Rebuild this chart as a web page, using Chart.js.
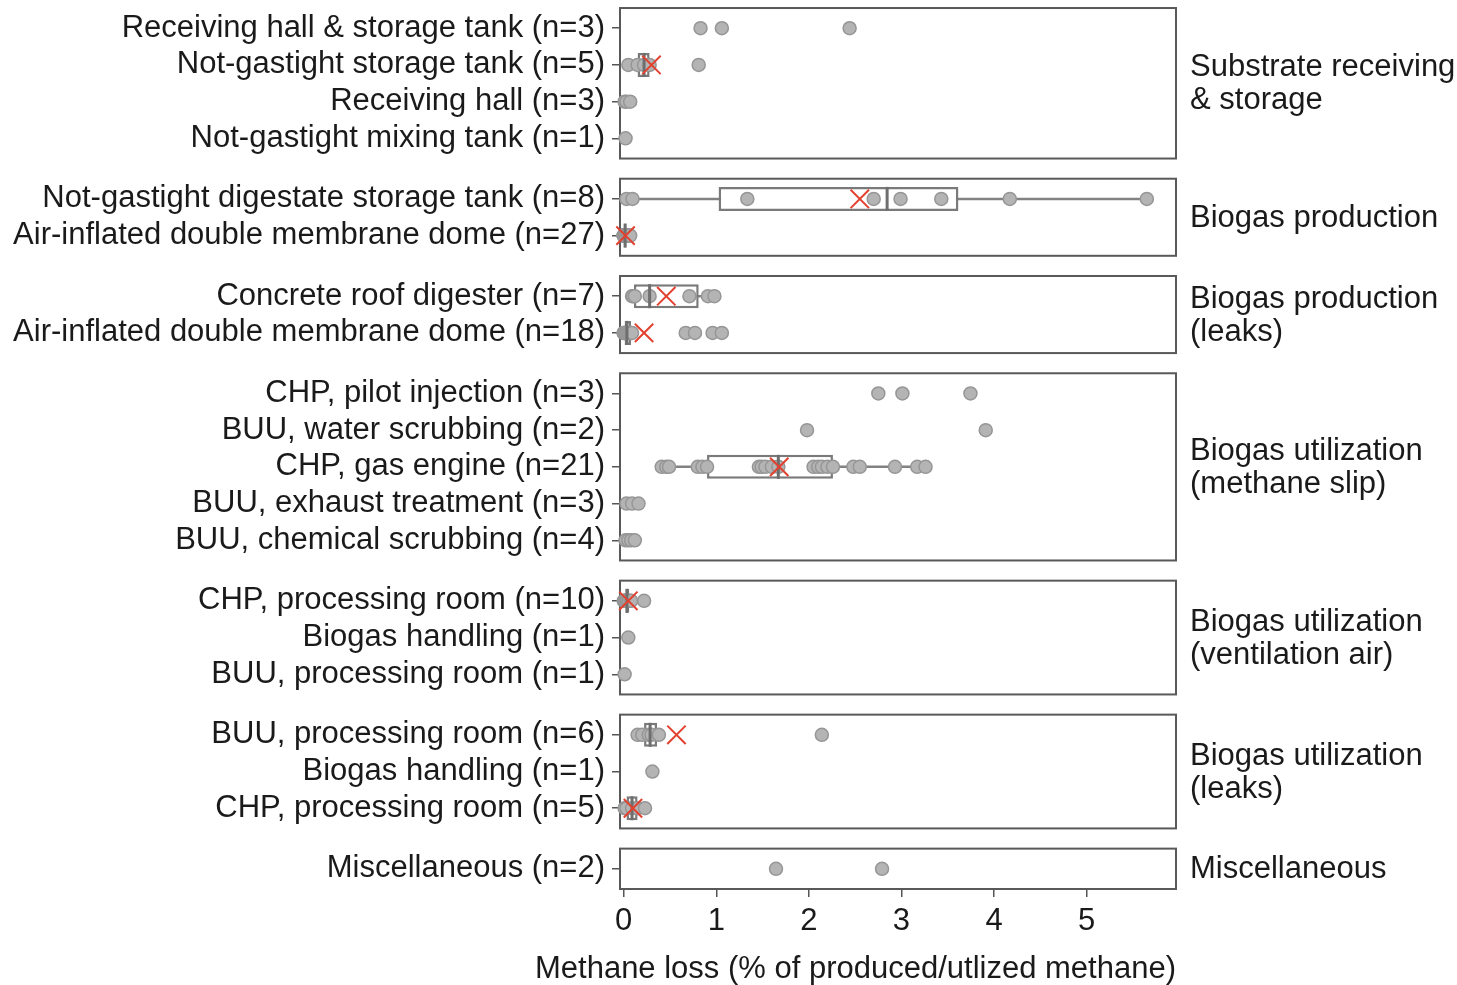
<!DOCTYPE html>
<html>
<head>
    <meta charset="utf-8"/>
    <title>Methane loss</title>
    <script src="https://cdn.jsdelivr.net/npm/chart.js"></script>
    <style>
        body { margin: 0; background: #fff; }
        #chart-container { width: 1457px; height: 985px; }
    </style>
</head>
<body>
    <div id="chart-container">
        <canvas id="lossChart"></canvas>
    </div>

    <script>
        // Grupos (etiquetas de la derecha) y numero de filas de cada uno
        const groupSizes = [4, 2, 2, 5, 3, 3, 1];
        const groupLabels = [
            ['Substrate receiving', '& storage'],
            ['Biogas production'],
            ['Biogas production', '(leaks)'],
            ['Biogas utilization', '(methane slip)'],
            ['Biogas utilization', '(ventilation air)'],
            ['Biogas utilization', '(leaks)'],
            ['Miscellaneous']
        ];

        const rowLabels = [
            'Receiving hall & storage tank (n=3)',
            'Not-gastight storage tank (n=5)',
            'Receiving hall (n=3)',
            'Not-gastight mixing tank (n=1)',
            'Not-gastight digestate storage tank (n=8)',
            'Air-inflated double membrane dome (n=27)',
            'Concrete roof digester (n=7)',
            'Air-inflated double membrane dome (n=18)',
            'CHP, pilot injection (n=3)',
            'BUU, water scrubbing (n=2)',
            'CHP, gas engine (n=21)',
            'BUU, exhaust treatment (n=3)',
            'BUU, chemical scrubbing (n=4)',
            'CHP, processing room (n=10)',
            'Biogas handling (n=1)',
            'BUU, processing room (n=1)',
            'BUU, processing room (n=6)',
            'Biogas handling (n=1)',
            'CHP, processing room (n=5)',
            'Miscellaneous (n=2)'
        ];

        // Valores individuales (% de metano)
        const rowValues = [
            [0.83, 1.06, 2.44],
            [0.05, 0.15, 0.22, 0.28, 0.81],
            [0.01, 0.03, 0.07],
            [0.02],
            [0.03, 0.095, 1.335, 2.70, 2.99, 3.43, 4.17, 5.65],
            [0, 0, 0, 0, 0.005, 0.005, 0.01, 0.01, 0.01, 0.01, 0.01, 0.015, 0.015, 0.02,
             0.02, 0.02, 0.02, 0.025, 0.03, 0.03, 0.03, 0.035, 0.04, 0.04, 0.05, 0.06, 0.07],
            [0.09, 0.10, 0.12, 0.28, 0.71, 0.91, 0.98],
            [0, 0, 0.01, 0.01, 0.02, 0.02, 0.03, 0.03, 0.04, 0.05, 0.06, 0.07, 0.08, 0.09,
             0.67, 0.77, 0.96, 1.06],
            [2.75, 3.01, 3.745],
            [1.98, 3.91],
            [0.41, 0.46, 0.49, 0.80, 0.85, 0.90, 1.46, 1.49, 1.53, 1.60, 1.67, 2.05, 2.10,
             2.14, 2.20, 2.26, 2.48, 2.55, 2.93, 3.17, 3.26],
            [0.03, 0.09, 0.16],
            [0.02, 0.05, 0.08, 0.12],
            [0, 0.01, 0.02, 0.03, 0.03, 0.04, 0.05, 0.06, 0.08, 0.22],
            [0.05],
            [0.01],
            [0.15, 0.20, 0.27, 0.30, 0.38, 2.14],
            [0.31],
            [0.01, 0.03, 0.09, 0.15, 0.23],
            [1.645, 2.79]
        ];

        // Estadisticos de caja (null = sin caja)
        const boxQ1     = [null, 0.15, null, null, 1.025, 0.005, 0.11, 0.01, null, null, 0.90, null, null, 0.02, null, null, 0.22, null, 0.03, null];
        const boxMedian = [null, 0.22, null, null, 2.845, 0.015, 0.28, 0.035, null, null, 1.67, null, null, 0.035, null, null, 0.285, null, 0.09, null];
        const boxQ3     = [null, 0.28, null, null, 3.615, 0.03, 0.81, 0.08, null, null, 2.26, null, null, 0.06, null, null, 0.36, null, 0.15, null];
        const whiskLow  = [null, 0.05, null, null, 0.03, 0, 0.09, 0, null, null, 0.41, null, null, 0, null, null, 0.15, null, 0.01, null];
        const whiskHigh = [null, 0.28, null, null, 5.65, 0.07, 0.98, 0.09, null, null, 3.26, null, null, 0.08, null, null, 0.38, null, 0.23, null];
        const meanValues = [null, 0.30, null, null, 2.55, 0.02, 0.46, 0.22, null, null, 1.68, null, null, 0.05, null, null, 0.57, null, 0.10, null];

        const xTicks = [0, 1, 2, 3, 4, 5];
        const xTitle = 'Methane loss (% of produced/utlized methane)';

        // Posicion vertical de cada fila (1 unidad = 1 fila)
        const PAD = 0.55;
        const rowPos = [];
        const panels = [];
        let cur = 0;
        groupSizes.forEach(n => {
            for (let i = 0; i < n; i++) rowPos.push(cur + i);
            const last = cur + n - 1;
            panels.push([cur - PAD, last + PAD]);
            cur = last + 3 * PAD;
        });
        // Chart.js deja ~15 px arriba por la etiqueta superior; el primer marco
        // se dibuja un poco por encima del area para quedar a 8 px del borde
        const yMin = -PAD + 0.19;
        const yMax = rowPos[rowPos.length - 1] + PAD;

        const FONT = '"Liberation Sans", Arial, sans-serif';
        const TEXT = '#1a1a1a';

        // Conjuntos de datos
        const pointData = [], whiskerData = [], boxData = [], medianData = [], meanData = [];
        rowValues.forEach((vals, i) => {
            vals.forEach(v => pointData.push({ x: v, y: rowPos[i] }));
            if (boxQ1[i] !== null) {
                whiskerData.push({ y: rowPos[i], x: [whiskLow[i], whiskHigh[i]] });
                boxData.push({ y: rowPos[i], x: [boxQ1[i], boxQ3[i]] });
                medianData.push({ x: boxMedian[i], y: rowPos[i] });
                meanData.push({ x: meanValues[i], y: rowPos[i] });
            }
        });

        // Marcos de los paneles, etiquetas de grupo y titulo del eje x
        const panelPlugin = {
            id: 'panels',
            beforeDatasetsDraw(chart) {
                const { ctx, chartArea, scales } = chart;
                ctx.save();
                ctx.strokeStyle = '#595959';
                ctx.lineWidth = 2;
                ctx.fillStyle = TEXT;
                ctx.font = '31px ' + FONT;
                ctx.textAlign = 'left';
                ctx.textBaseline = 'middle';
                panels.forEach((p, g) => {
                    const top = scales.y.getPixelForValue(p[0]);
                    const bottom = scales.y.getPixelForValue(p[1]);
                    ctx.strokeRect(chartArea.left, top, chartArea.right - chartArea.left, bottom - top);
                    const lines = groupLabels[g];
                    const mid = (top + bottom) / 2 + 1;
                    const lh = 33;
                    lines.forEach((t, k) => {
                        ctx.fillText(t, chartArea.right + 14, mid + (k - (lines.length - 1) / 2) * lh);
                    });
                });
                ctx.restore();
            },
            afterDraw(chart) {
                const { ctx, chartArea } = chart;
                ctx.save();
                ctx.fillStyle = TEXT;
                ctx.font = '31px ' + FONT;
                ctx.textAlign = 'right';
                ctx.textBaseline = 'middle';
                ctx.fillText(xTitle, chartArea.right, chartArea.bottom + 80);
                ctx.restore();
            }
        };

        const ctx = document.getElementById('lossChart').getContext('2d');
        new Chart(ctx, {
            type: 'scatter',
            data: {
                datasets: [
                    {
                        type: 'bar',
                        indexAxis: 'y',
                        data: whiskerData,
                        grouped: false,
                        barThickness: 2.5,
                        backgroundColor: '#828282',
                        borderWidth: 0,
                        inflateAmount: 0,
                        order: 5
                    },
                    {
                        type: 'bar',
                        indexAxis: 'y',
                        data: boxData,
                        grouped: false,
                        barThickness: 24,
                        backgroundColor: '#ffffff',
                        borderColor: '#7a7a7a',
                        borderWidth: 2.5,
                        borderSkipped: false,
                        inflateAmount: 0,
                        order: 4
                    },
                    {
                        data: pointData,
                        pointRadius: 6.5,
                        backgroundColor: '#b4b4b4',
                        borderColor: '#969696',
                        borderWidth: 1.5,
                        clip: false,
                        order: 3
                    },
                    {
                        data: medianData,
                        pointStyle: 'line',
                        rotation: 90,
                        pointRadius: 12,
                        borderColor: '#6e6e6e',
                        borderWidth: 3,
                        clip: false,
                        order: 2
                    },
                    {
                        data: meanData,
                        pointStyle: 'crossRot',
                        pointRadius: 13,
                        borderColor: '#e2412f',
                        borderWidth: 2,
                        clip: false,
                        order: 1
                    }
                ]
            },
            options: {
                responsive: true,
                maintainAspectRatio: false,
                animation: false,
                layout: { padding: { top: 0, right: 281, left: 0, bottom: 0 } },
                plugins: { legend: { display: false }, tooltip: { enabled: false } },
                scales: {
                    x: {
                        type: 'linear',
                        min: -0.04,
                        max: 5.965,
                        afterBuildTicks: s => { s.ticks = xTicks.map(v => ({ value: v })); },
                        afterFit: s => { s.height = 96; s.paddingLeft = 0; s.paddingRight = 0; },
                        border: { display: false },
                        grid: { display: true, drawOnChartArea: false, drawTicks: true, tickLength: 8, color: '#555', lineWidth: 1.5 },
                        ticks: { color: TEXT, font: { family: FONT, size: 31 }, padding: 6 }
                    },
                    y: {
                        type: 'linear',
                        reverse: true,
                        min: yMin,
                        max: yMax,
                        offset: false,
                        afterBuildTicks: s => { s.ticks = rowPos.map(v => ({ value: v })); },
                        afterFit: s => { s.width = 620; s.paddingTop = 0; s.paddingBottom = 0; },
                        border: { display: false },
                        grid: { display: true, offset: false, drawOnChartArea: false, drawTicks: true, tickLength: 8, color: '#555', lineWidth: 1.5 },
                        ticks: {
                            autoSkip: false,
                            color: TEXT,
                            padding: 7,
                            font: { family: FONT, size: 31, lineHeight: 1 },
                            callback: (v, i) => rowLabels[i]
                        }
                    }
                }
            },
            plugins: [panelPlugin]
        });
    </script>
</body>
</html>
